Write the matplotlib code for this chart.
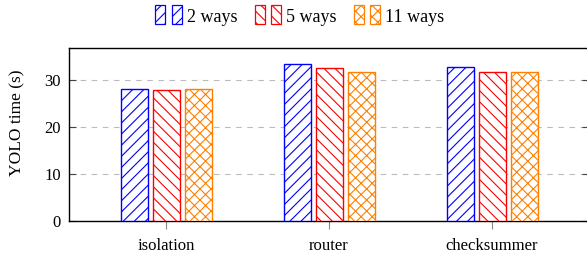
import matplotlib
matplotlib.use("Agg")
import matplotlib.pyplot as plt
import numpy as np
from matplotlib.patches import Rectangle
from matplotlib.legend_handler import HandlerBase

categories = ["isolation", "router", "checksummer"]
series_names = ["2 ways", "5 ways", "11 ways"]
vals_2 = [28.0, 33.3, 32.7]
vals_5 = [27.8, 32.6, 31.8]
vals_11 = [28.0, 31.8, 31.6]
colors = ["#0000ff", "#ff0000", "#ff8000"]
hatches = ["///", "\\\\\\", "xxx"]

plt.rcParams['font.family'] = ['Liberation Serif', 'DejaVu Serif']
plt.rcParams['hatch.linewidth'] = 0.8

fig = plt.figure(figsize=(5.87, 2.56), dpi=100)
ax = fig.add_axes([69/587, 1-221/256, (589-69)/587, (221-48)/256])

x = np.arange(len(categories))
step = 163.0
bw = 27/step
pitch = 32/step
series = [vals_2, vals_5, vals_11]
handles = []
for i, (vals, c, h, name) in enumerate(zip(series, colors, hatches, series_names)):
    bars = ax.bar(x + (i-1)*pitch, vals, width=bw, facecolor='white', edgecolor=c,
                  hatch=h, linewidth=1.0, label=name, zorder=3)
    handles.append(bars[0])

ax.set_xlim(-97/step, 2 + 97/step)
ax.set_ylim(0, (221-48)/4.7)
ax.set_yticks([0, 10, 20, 30])
ax.set_xticks(x)
ax.set_xticklabels(categories)
ax.set_ylabel("YOLO time (s)", fontsize=12.5)
ax.yaxis.set_label_coords(-44/520, 0.57)
ax.tick_params(axis='y', direction='in', right=True, left=True, length=5, color='#444444', labelsize=12, pad=6)
ax.tick_params(axis='x', direction='out', length=6, color='#888888', labelsize=12, pad=6)
ax.grid(axis='y', linestyle=(0, (5, 5)), color='#bbbbbb', linewidth=0.8, zorder=0)
for s in ax.spines.values():
    s.set_linewidth(1.0)
    s.set_color('black')


class TwoBarHandler(HandlerBase):
    def create_artists(self, legend, orig_handle, xdescent, ydescent, width, height, fontsize, trans):
        ec = orig_handle.get_edgecolor()
        h = orig_handle.get_hatch()
        w = width * 0.38
        hh = height * 1.5
        y0 = -ydescent + (height - hh) / 2 + height * 0.05
        r1 = Rectangle((-xdescent, y0), w, hh, facecolor='white', edgecolor=ec, hatch=h, linewidth=0.9, transform=trans)
        r2 = Rectangle((-xdescent + width - w, y0), w, hh, facecolor='white', edgecolor=ec, hatch=h, linewidth=0.9, transform=trans)
        return [r1, r2]


leg = fig.legend(handles, series_names, loc='center', bbox_to_anchor=(300/587, 1-17/256), ncol=3,
                 frameon=False, fontsize=13, handler_map={type(handles[0]): TwoBarHandler()},
                 handlelength=1.45, handletextpad=0.3, columnspacing=0.95)

fig.savefig("out.png", dpi=100)
